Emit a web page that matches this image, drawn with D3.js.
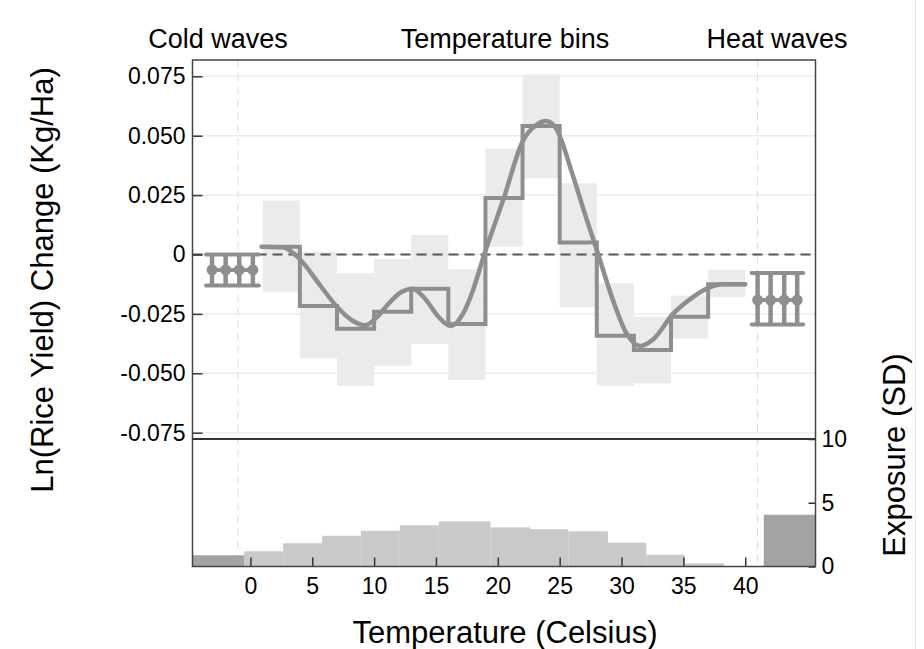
<!DOCTYPE html>
<html>
<head>
<meta charset="utf-8">
<script src="https://cdn.jsdelivr.net/npm/d3@7"></script>
<style>
  body { margin: 0; background: #fff; }
  text { font-family: "Liberation Sans", Arial, sans-serif; fill: #000; }
</style>
</head>
<body>
<div id="chart"></div>
<script>
// temperature bins (3 C wide, 1..40)
const binEdges = [1, 4, 7, 10, 13, 16, 19, 22, 25, 28, 31, 34, 37, 40];
const binEst = [0.0033, -0.0217, -0.0312, -0.0241, -0.0144, -0.0293, 0.0238, 0.0541, 0.0050, -0.0342, -0.0402, -0.0262, -0.0125];
const binLo  = [-0.0159, -0.0437, -0.0553, -0.0468, -0.0377, -0.0528, 0.0033, 0.0321, -0.0222, -0.0553, -0.0542, -0.0354, -0.0180];
const binHi  = [0.0227, 0.0012, -0.0079, -0.0019, 0.0082, -0.0062, 0.0446, 0.0758, 0.0300, -0.0121, -0.0262, -0.0173, -0.0065];

// smooth response curve
const curveTemp = [0.9, 2.6, 4.0, 5.5, 7.0, 8.3, 9.3, 10.2, 11.2, 12.2, 13.1, 14.1, 15.2, 16.2, 17.2, 18.0, 18.9, 20.5, 22.0, 23.1, 23.9, 24.7, 26.1, 27.2, 28.0, 29.3, 30.4, 31.5, 32.5, 34.2, 35.8, 37.1, 38.2, 40.0];
const curveVal  = [0.0033, 0.0030, -0.0020, -0.0120, -0.0220, -0.0280, -0.0298, -0.0265, -0.0205, -0.0158, -0.0144, -0.0185, -0.0262, -0.0301, -0.0248, -0.0149, 0.0000, 0.0240, 0.0475, 0.0545, 0.0562, 0.0531, 0.0327, 0.0145, 0.0019, -0.0191, -0.0332, -0.0385, -0.0360, -0.0248, -0.0178, -0.0138, -0.0125, -0.0125];

// cold / heat wave estimates (4 definitions each)
const coldPos = [-3.1, -2.0, -0.9, 0.2];
const coldEst = [-0.0065, -0.0065, -0.0065, -0.0065];
const coldLo  = [-0.0130, -0.0130, -0.0130, -0.0130];
const coldHi  = [0.0000, 0.0000, 0.0000, 0.0000];
const heatPos = [41.0, 42.05, 43.15, 44.2];
const heatEst = [-0.0192, -0.0192, -0.0192, -0.0192];
const heatLo  = [-0.0295, -0.0295, -0.0295, -0.0295];
const heatHi  = [-0.0078, -0.0078, -0.0078, -0.0078];

// exposure histogram
const histEdges = [-0.5, 2.65, 5.8, 8.93, 12.08, 15.23, 19.4, 22.6, 25.7, 28.9, 32.0, 35.1, 38.3, 41.5];
const histVals  = [1.19, 1.82, 2.41, 2.80, 3.23, 3.54, 3.07, 2.92, 2.76, 1.87, 0.92, 0.25, 0.02];
const coldExposure = 0.88;
const heatExposure = 4.06;

const xTicks = [0, 5, 10, 15, 20, 25, 30, 35, 40];
const yTicks = [-0.075, -0.05, -0.025, 0, 0.025, 0.05, 0.075];
const expTicks = [0, 5, 10];

const W = 924, H = 649;
const pLeft = 192.5, pRight = 815.5, pTop = 60, pMid = 439, pBottom = 566.5;
const grey = "#8e8e8e";

const svg = d3.select("#chart").append("svg")
  .attr("width", W).attr("height", H);

const x = d3.scaleLinear().domain([-4.68, 45.68]).range([pLeft, pRight]);
const y = d3.scaleLinear().domain([-0.07765, 0.08186]).range([pMid, pTop]);
const yE = d3.scaleLinear().domain([0, 10]).range([pBottom, pMid]);

// faint outer edge
svg.append("line").attr("x1", 915.5).attr("x2", 915.5).attr("y1", 0).attr("y2", H)
  .attr("stroke", "#e8e8e8");

// gridlines
svg.append("g").selectAll("line").data(yTicks).enter().append("line")
  .attr("x1", pLeft).attr("x2", pRight)
  .attr("y1", d => y(d)).attr("y2", d => y(d))
  .attr("stroke", "#ececec").attr("stroke-width", 1.5);

// vertical separators for cold / heat waves
svg.append("g").selectAll("line").data([-1, 41]).enter().append("line")
  .attr("x1", d => x(d)).attr("x2", d => x(d))
  .attr("y1", pTop).attr("y2", pBottom)
  .attr("stroke", "#dcdcdc").attr("stroke-width", 1).attr("stroke-dasharray", "8,5");

// confidence boxes
svg.append("g").selectAll("rect").data(binEst).enter().append("rect")
  .attr("x", (d, i) => x(binEdges[i]))
  .attr("width", (d, i) => x(binEdges[i + 1]) - x(binEdges[i]))
  .attr("y", (d, i) => y(binHi[i]))
  .attr("height", (d, i) => y(binLo[i]) - y(binHi[i]))
  .attr("fill", "#ebebeb");

// zero line
svg.append("line").attr("x1", pLeft).attr("x2", pRight)
  .attr("y1", y(0)).attr("y2", y(0))
  .attr("stroke", "#555").attr("stroke-width", 2).attr("stroke-dasharray", "10,6");

// step estimates
const stepPts = binEst.map((d, i) => [binEdges[i], d]).concat([[40, binEst[binEst.length - 1]]]);
svg.append("path").datum(stepPts)
  .attr("d", d3.line().x(d => x(d[0])).y(d => y(d[1])).curve(d3.curveStepAfter))
  .attr("fill", "none").attr("stroke", grey).attr("stroke-width", 4)
  .attr("stroke-linecap", "round");

// smooth curve
svg.append("path").datum(curveTemp.map((t, i) => [t, curveVal[i]]))
  .attr("d", d3.line().x(d => x(d[0])).y(d => y(d[1])).curve(d3.curveMonotoneX))
  .attr("fill", "none").attr("stroke", grey).attr("stroke-width", 4.5)
  .attr("stroke-linecap", "round");

// cold / heat wave error bars
function waveMarks(pos, est, lo, hi) {
  const g = svg.append("g").attr("stroke", grey).attr("fill", grey);
  g.selectAll(".v").data(pos).enter().append("line")
    .attr("x1", d => x(d)).attr("x2", d => x(d))
    .attr("y1", (d, i) => y(hi[i])).attr("y2", (d, i) => y(lo[i]))
    .attr("stroke-width", 4.5);
  [hi, lo].forEach(arr => {
    g.selectAll(null).data(pos).enter().append("line")
      .attr("x1", d => x(d) - 6).attr("x2", d => x(d) + 6)
      .attr("y1", (d, i) => y(arr[i])).attr("y2", (d, i) => y(arr[i]))
      .attr("stroke-width", 4).attr("stroke-linecap", "round");
  });
  g.append("path").datum(pos.map((p, i) => [p, est[i]]))
    .attr("d", d3.line().x(d => x(d[0])).y(d => y(d[1])))
    .attr("fill", "none").attr("stroke-width", 4);
  g.selectAll("circle").data(pos).enter().append("circle")
    .attr("cx", d => x(d)).attr("cy", (d, i) => y(est[i])).attr("r", 5.5)
    .attr("stroke", "none");
}
waveMarks(coldPos, coldEst, coldLo, coldHi);
waveMarks(heatPos, heatEst, heatLo, heatHi);

// exposure histogram
svg.append("g").selectAll("rect").data(histVals).enter().append("rect")
  .attr("x", (d, i) => x(histEdges[i]))
  .attr("width", (d, i) => x(histEdges[i + 1]) - x(histEdges[i]))
  .attr("y", d => yE(d))
  .attr("height", d => pBottom - yE(d))
  .attr("fill", "#c9c9c9");
svg.append("rect")
  .attr("x", pLeft).attr("width", x(histEdges[0]) - pLeft)
  .attr("y", yE(coldExposure)).attr("height", pBottom - yE(coldExposure))
  .attr("fill", "#a3a3a3");
svg.append("rect")
  .attr("x", x(histEdges[histEdges.length - 1])).attr("width", pRight - x(histEdges[histEdges.length - 1]))
  .attr("y", yE(heatExposure)).attr("height", pBottom - yE(heatExposure))
  .attr("fill", "#a3a3a3");

// axes
const yAxis = svg.append("g").attr("transform", `translate(${pLeft},0)`)
  .call(d3.axisLeft(y).tickValues(yTicks).tickSize(-10).tickPadding(7)
    .tickFormat(d => d === 0 ? "0" : d.toFixed(3)));
const xAxis = svg.append("g").attr("transform", `translate(0,${pBottom})`)
  .call(d3.axisBottom(x).tickValues(xTicks).tickSize(-9).tickPadding(11));
const eAxis = svg.append("g").attr("transform", `translate(${pRight},0)`)
  .call(d3.axisRight(yE).tickValues(expTicks).tickSize(-7).tickPadding(6));

[yAxis, xAxis, eAxis].forEach(a => {
  a.select(".domain").remove();
  a.selectAll(".tick line").attr("stroke", "#333").attr("stroke-width", 1.5);
  a.selectAll(".tick text").style("font-size", "23px").attr("fill", "#000");
});

// frame
const frame = svg.append("g").attr("fill", "none").attr("stroke", "#444").attr("stroke-width", 1.5);
frame.append("rect").attr("x", pLeft).attr("y", pTop).attr("width", pRight - pLeft).attr("height", pBottom - pTop);
frame.append("line").attr("x1", pLeft).attr("x2", pRight).attr("y1", pMid).attr("y2", pMid)
  .attr("stroke", "#333").attr("stroke-width", 2.2);

// labels
svg.append("g").selectAll("text")
  .data([["Cold waves", 218], ["Temperature bins", 505], ["Heat waves", 777]])
  .enter().append("text")
  .attr("x", d => d[1]).attr("y", 48).attr("text-anchor", "middle")
  .style("font-size", "27px").text(d => d[0]);

svg.append("text").attr("x", 505).attr("y", 643).attr("text-anchor", "middle")
  .style("font-size", "31px").text("Temperature (Celsius)");

svg.append("text").attr("transform", "translate(53,280) rotate(-90)")
  .attr("text-anchor", "middle").style("font-size", "31px")
  .text("Ln(Rice Yield) Change (Kg/Ha)");

svg.append("text").attr("transform", "translate(905,455) rotate(-90)")
  .attr("text-anchor", "middle").style("font-size", "31px")
  .text("Exposure (SD)");
</script>
</body>
</html>
